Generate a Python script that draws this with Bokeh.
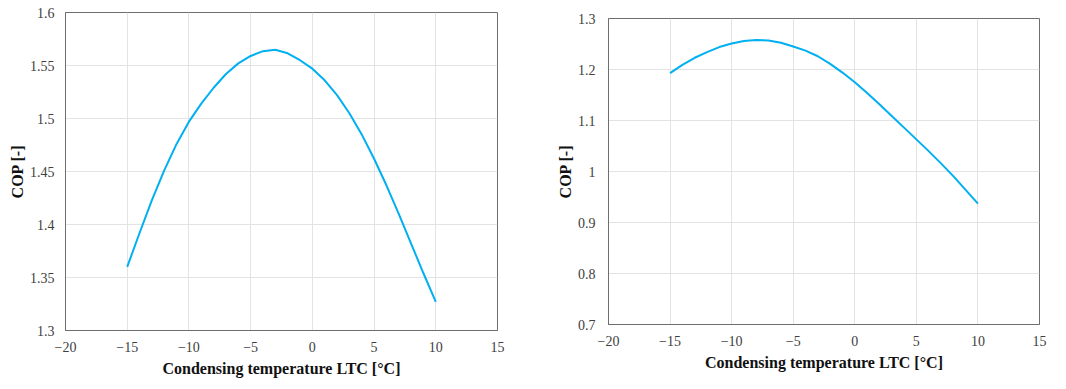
from bokeh.plotting import figure
from bokeh.layouts import row, column
from bokeh.models import FixedTicker, CustomJSTickFormatter, Range1d, Spacer
from bokeh.embed import file_html
from bokeh.resources import INLINE

# Condensing temperature LTC [°C]
temp_c = [-15, -14, -13, -12, -11, -10, -9, -8, -7, -6, -5, -4, -3,
          -2, -1, 0, 1, 2, 3, 4, 5, 6, 7, 8, 9, 10]

# COP, left chart
cop_left = [1.360, 1.392, 1.423, 1.451, 1.476, 1.497, 1.514, 1.529, 1.542,
            1.552, 1.559, 1.5635, 1.5648, 1.5615, 1.555, 1.547, 1.536, 1.522,
            1.505, 1.485, 1.462, 1.437, 1.410, 1.382, 1.354, 1.327]

# COP, right chart
cop_right = [1.193, 1.209, 1.223, 1.234, 1.244, 1.251, 1.256, 1.258, 1.257,
             1.2525, 1.245, 1.237, 1.226, 1.211, 1.194, 1.175, 1.154, 1.132,
             1.109, 1.086, 1.063, 1.040, 1.016, 0.991, 0.964, 0.937]

x_ticks = [-20, -15, -10, -5, 0, 5, 10, 15]
y_ticks_left = [1.3, 1.35, 1.4, 1.45, 1.5, 1.55, 1.6]
y_ticks_right = [0.7, 0.8, 0.9, 1.0, 1.1, 1.2, 1.3]

x_label = "Condensing temperature LTC [°C]"
y_label = "COP [-]"

FONT = "'Liberation Serif', 'Times New Roman', serif"
LINE_COLOR = "#00b0f0"
GRID = "#e3e3e3"
FRAME = "#6e6e6e"

x_fmt = CustomJSTickFormatter(code="return tick < 0 ? '\\u2212' + Math.abs(tick) : String(tick);")
y_fmt = CustomJSTickFormatter(code="return String(Math.round(tick*1000)/1000);")


def make(x, y, yticks, fw, fh, borders, ystand):
    bl, br, bt, bb = borders
    p = figure(frame_width=fw, frame_height=fh, output_backend="svg", toolbar_location=None,
               x_range=Range1d(-20, 15), y_range=Range1d(yticks[0], yticks[-1]),
               min_border_left=bl, min_border_right=br, min_border_top=bt,
               min_border_bottom=bb)
    p.line(x, y, line_color=LINE_COLOR, line_width=2)
    p.outline_line_color = FRAME
    p.outline_line_width = 1
    p.background_fill_color = "white"
    p.border_fill_color = "white"
    for ax in (p.xaxis[0], p.yaxis[0]):
        ax.axis_line_color = FRAME
        ax.major_tick_line_color = None
        ax.minor_tick_line_color = None
        ax.major_tick_out = 0
        ax.major_tick_in = 0
        ax.major_label_text_font = FONT
        ax.major_label_text_font_size = "14px"
        ax.major_label_text_color = "#404040"
        ax.axis_label_text_font = FONT
        ax.axis_label_text_font_style = "bold"
        ax.axis_label_text_font_size = "16px"
        ax.axis_label_text_color = "#111111"
    p.xaxis.ticker = FixedTicker(ticks=x_ticks)
    p.yaxis.ticker = FixedTicker(ticks=yticks)
    p.xaxis.formatter = x_fmt
    p.yaxis.formatter = y_fmt
    p.xaxis.axis_label = x_label
    p.yaxis.axis_label = y_label
    p.xaxis.major_label_standoff = 11
    p.xaxis.axis_label_standoff = 5
    p.yaxis.major_label_standoff = ystand
    p.yaxis.axis_label_standoff = 1
    p.xgrid.ticker = FixedTicker(ticks=x_ticks)
    p.ygrid.ticker = FixedTicker(ticks=yticks)
    p.xgrid.grid_line_color = GRID
    p.ygrid.grid_line_color = GRID
    p.xgrid.grid_line_width = 1
    p.ygrid.grid_line_width = 1
    return p


p1 = make(temp_c, cop_left, y_ticks_left, 432, 318, (65, 43, 12, 56), 11)
p2 = make(temp_c, cop_right, y_ticks_right, 431, 306, (68, 20, 12, 56), 13)

layout = row(p1, column(Spacer(height=6, width=10), p2))
open("out.html", "w").write(file_html(layout, INLINE))
